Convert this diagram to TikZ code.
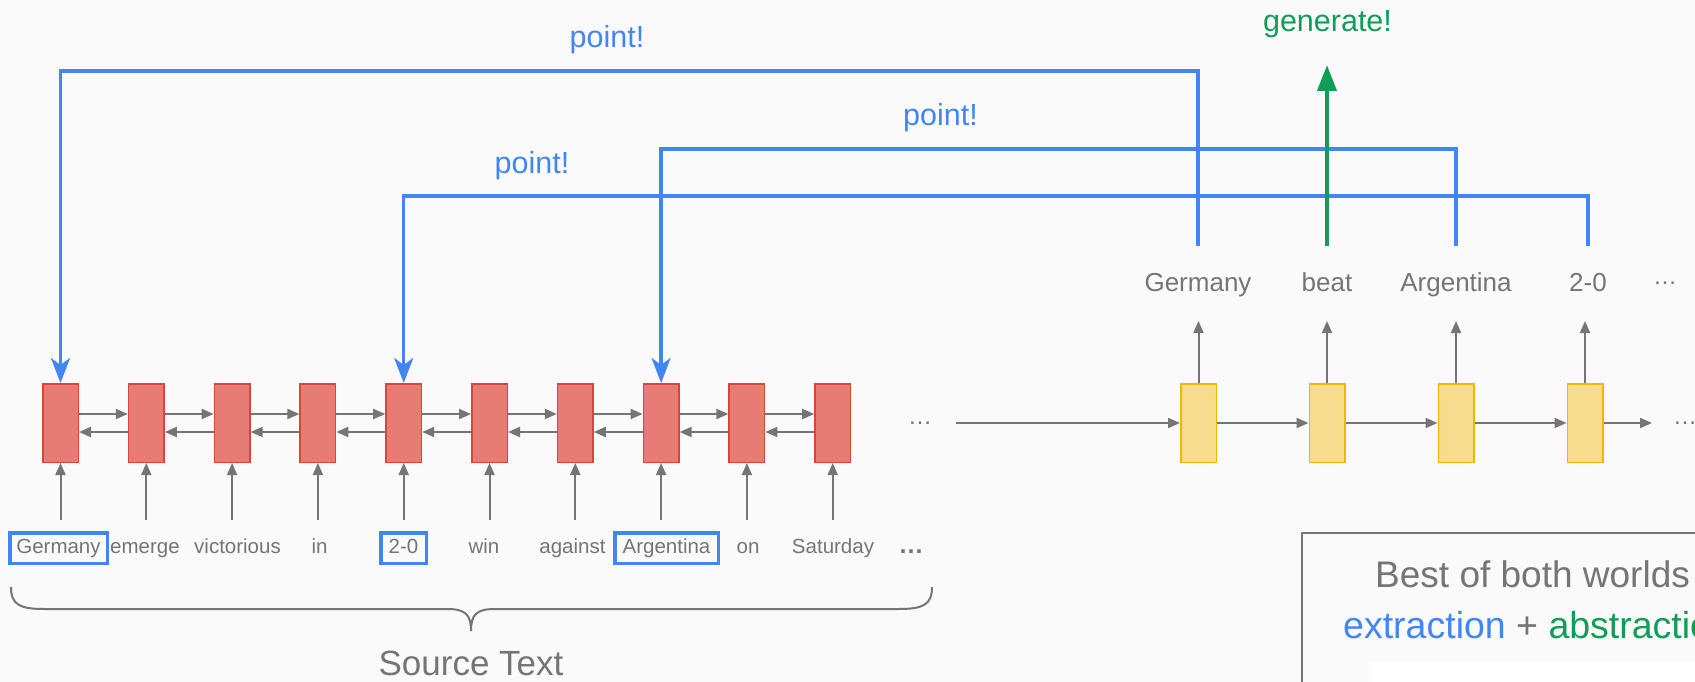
\documentclass[tikz,border=0pt]{standalone}
\usepackage{fontspec}
\setmainfont{Liberation Sans}
\usetikzlibrary{arrows.meta}
\definecolor{bg}{HTML}{FAFAFA}
\definecolor{gtext}{HTML}{757575}
\definecolor{gblue}{HTML}{4285F4}
\definecolor{ggreen}{HTML}{0F9D58}
\definecolor{rfill}{HTML}{E67C73}
\definecolor{rdraw}{HTML}{DB4437}
\definecolor{yfill}{HTML}{F7DC8E}
\definecolor{ydraw}{HTML}{F4B400}
\definecolor{arr}{HTML}{757575}
\begin{document}
\begin{tikzpicture}[x=1pt,y=-1pt,
  rbox/.style={draw=rdraw, fill=rfill, line width=1.5pt, minimum width=35.5pt, minimum height=78.5pt, inner sep=0pt},
  ybox/.style={draw=ydraw, fill=yfill, line width=1.5pt, minimum width=35.5pt, minimum height=78.5pt, inner sep=0pt},
  gar/.style={draw=arr, line width=2pt, -{Triangle[length=12pt,width=10pt]}},
  ptr/.style={draw=gblue, line width=3.5pt, -{Stealth[length=25pt,width=19pt,inset=7pt]}},
  gen/.style={draw=ggreen, line width=4pt, -{Triangle[length=26pt,width=19pt]}},
  word/.style={text=gtext, font=\fontsize{20.5}{24}\selectfont, text height=15pt, text depth=5pt, inner sep=0pt},
  hl/.style={word, draw=gblue, line width=3.5pt, minimum height=30.5pt},
  oword/.style={text=gtext, font=\fontsize{26}{30}\selectfont, inner sep=0pt, anchor=base},
  lbl/.style={font=\fontsize{30.5}{34}\selectfont, inner sep=0pt, anchor=base},
  dots/.style={text=gtext, font=\fontsize{24}{28}\selectfont, inner sep=0pt, anchor=base}
]
\useasboundingbox (0,0) rectangle (1695,682);
\clip (0,0) rectangle (1695,682);
\fill[bg] (0,0) rectangle (1695,682);

% encoder boxes
\foreach \i/\x in {1/60.5,2/146.3,3/232.1,4/317.9,5/403.7,6/489.5,7/575.3,8/661.1,9/746.9,10/832.7}
  \node[rbox] (r\i) at (\x,423) {};
\foreach \i/\j in {1/2,2/3,3/4,4/5,5/6,6/7,7/8,8/9,9/10}{
  \draw[gar] ([yshift=9pt]r\i.east) -- ([yshift=9pt]r\j.west);
  \draw[gar] ([yshift=-9pt]r\j.west) -- ([yshift=-9pt]r\i.east);
}

% source words
\node[hl, minimum width=97.5pt] (w1) at (58.5,548) {Germany};
\node[word] (w2) at (145,548) {emerge};
\node[word] (w3) at (237.5,548) {victorious};
\node[word] (w4) at (319.5,548) {in};
\node[hl, minimum width=45.5pt] (w5) at (403.5,548) {2-0};
\node[word] (w6) at (484,548) {win};
\node[word] (w7) at (572.5,548) {against};
\node[hl, minimum width=103.5pt] (w8) at (666.5,548) {Argentina};
\node[word] (w9) at (748,548) {on};
\node[word] (w10) at (833,548) {Saturday};
\node[dots, font=\fontsize{25}{28}\bfseries] (sdots) at (911,553) {…};
\foreach \i in {1,...,10}
  \draw[gar] ([yshift=-57pt]r\i.south) -- (r\i.south);

% brace and caption
\draw[gtext, line width=2pt] (11,587) .. controls (11,605) and (20,609) .. (45,609) -- (447,609)
  .. controls (466,609) and (471,615) .. (471,631)
  .. controls (471,615) and (476,609) .. (495,609) -- (898,609)
  .. controls (923,609) and (932,605) .. (932,587);
\node[text=gtext, font=\fontsize{35}{40}\selectfont, inner sep=0pt, anchor=base] (src) at (471,675) {Source Text};

% decoder
\node[dots] (ldots) at (920,424.5) {…};
\coordinate (dstart) at (956,423);
\foreach \i/\x in {1/1198.5,2/1327,3/1456,4/1585}
  \node[ybox] (y\i) at (\x,423) {};
\draw[gar] (dstart) -- (y1.west);
\draw[gar] (y1.east) -- (y2.west);
\draw[gar] (y2.east) -- (y3.west);
\draw[gar] (y3.east) -- (y4.west);
\coordinate (dend) at (1652,423);
\draw[gar] (y4.east) -- (dend);
\node[dots] (rdots) at (1685,424.5) {…};
\foreach \i in {1,...,4}
  \draw[gar] (y\i.north) -- ([yshift=62pt]y\i.north);

% output words
\node[oword] (o1) at (1198,291) {Germany};
\node[oword] (o2) at (1327,291) {beat};
\node[oword] (o3) at (1456,291) {Argentina};
\node[oword] (o4) at (1588,291) {2-0};
\node[dots] (odots) at (1665,284.5) {…};

% pointers
\draw[ptr] ([yshift=45pt]o1.base) |- (r1.north |- 0,71) -- (r1.north);
\draw[ptr] ([yshift=45pt]o3.base) |- (r8.north |- 0,149) -- (r8.north);
\draw[ptr] ([yshift=45pt]o4.base) |- (r5.north |- 0,196) -- (r5.north);
\node[lbl, text=gblue] (p1) at (607,48) {point!};
\node[lbl, text=gblue] (p2) at (940.5,126) {point!};
\node[lbl, text=gblue] (p3) at (532,173) {point!};

% generate
\coordinate (gtip) at (1327,65);
\draw[gen] ([yshift=45pt]o2.base) -- (gtip);
\node[lbl, text=ggreen] (g) at (1327.5,32) {generate!};

% best of both worlds box
\draw[gtext, line width=2pt] (1302,700) -- (1302,533) -- (1710,533);
\fill[white] (1371,661) rectangle (1710,700);
\node[text=gtext, font=\fontsize{37}{42}\selectfont, inner sep=0pt, anchor=base west] (bw) at (1375,587) {Best of both worlds};
\node[text=gtext, font=\fontsize{37.5}{42}\selectfont, inner sep=0pt, anchor=base west] (ea) at (1343,638) {\textcolor{gblue}{extraction} + \textcolor{ggreen}{abstraction}};
\end{tikzpicture}
\end{document}
